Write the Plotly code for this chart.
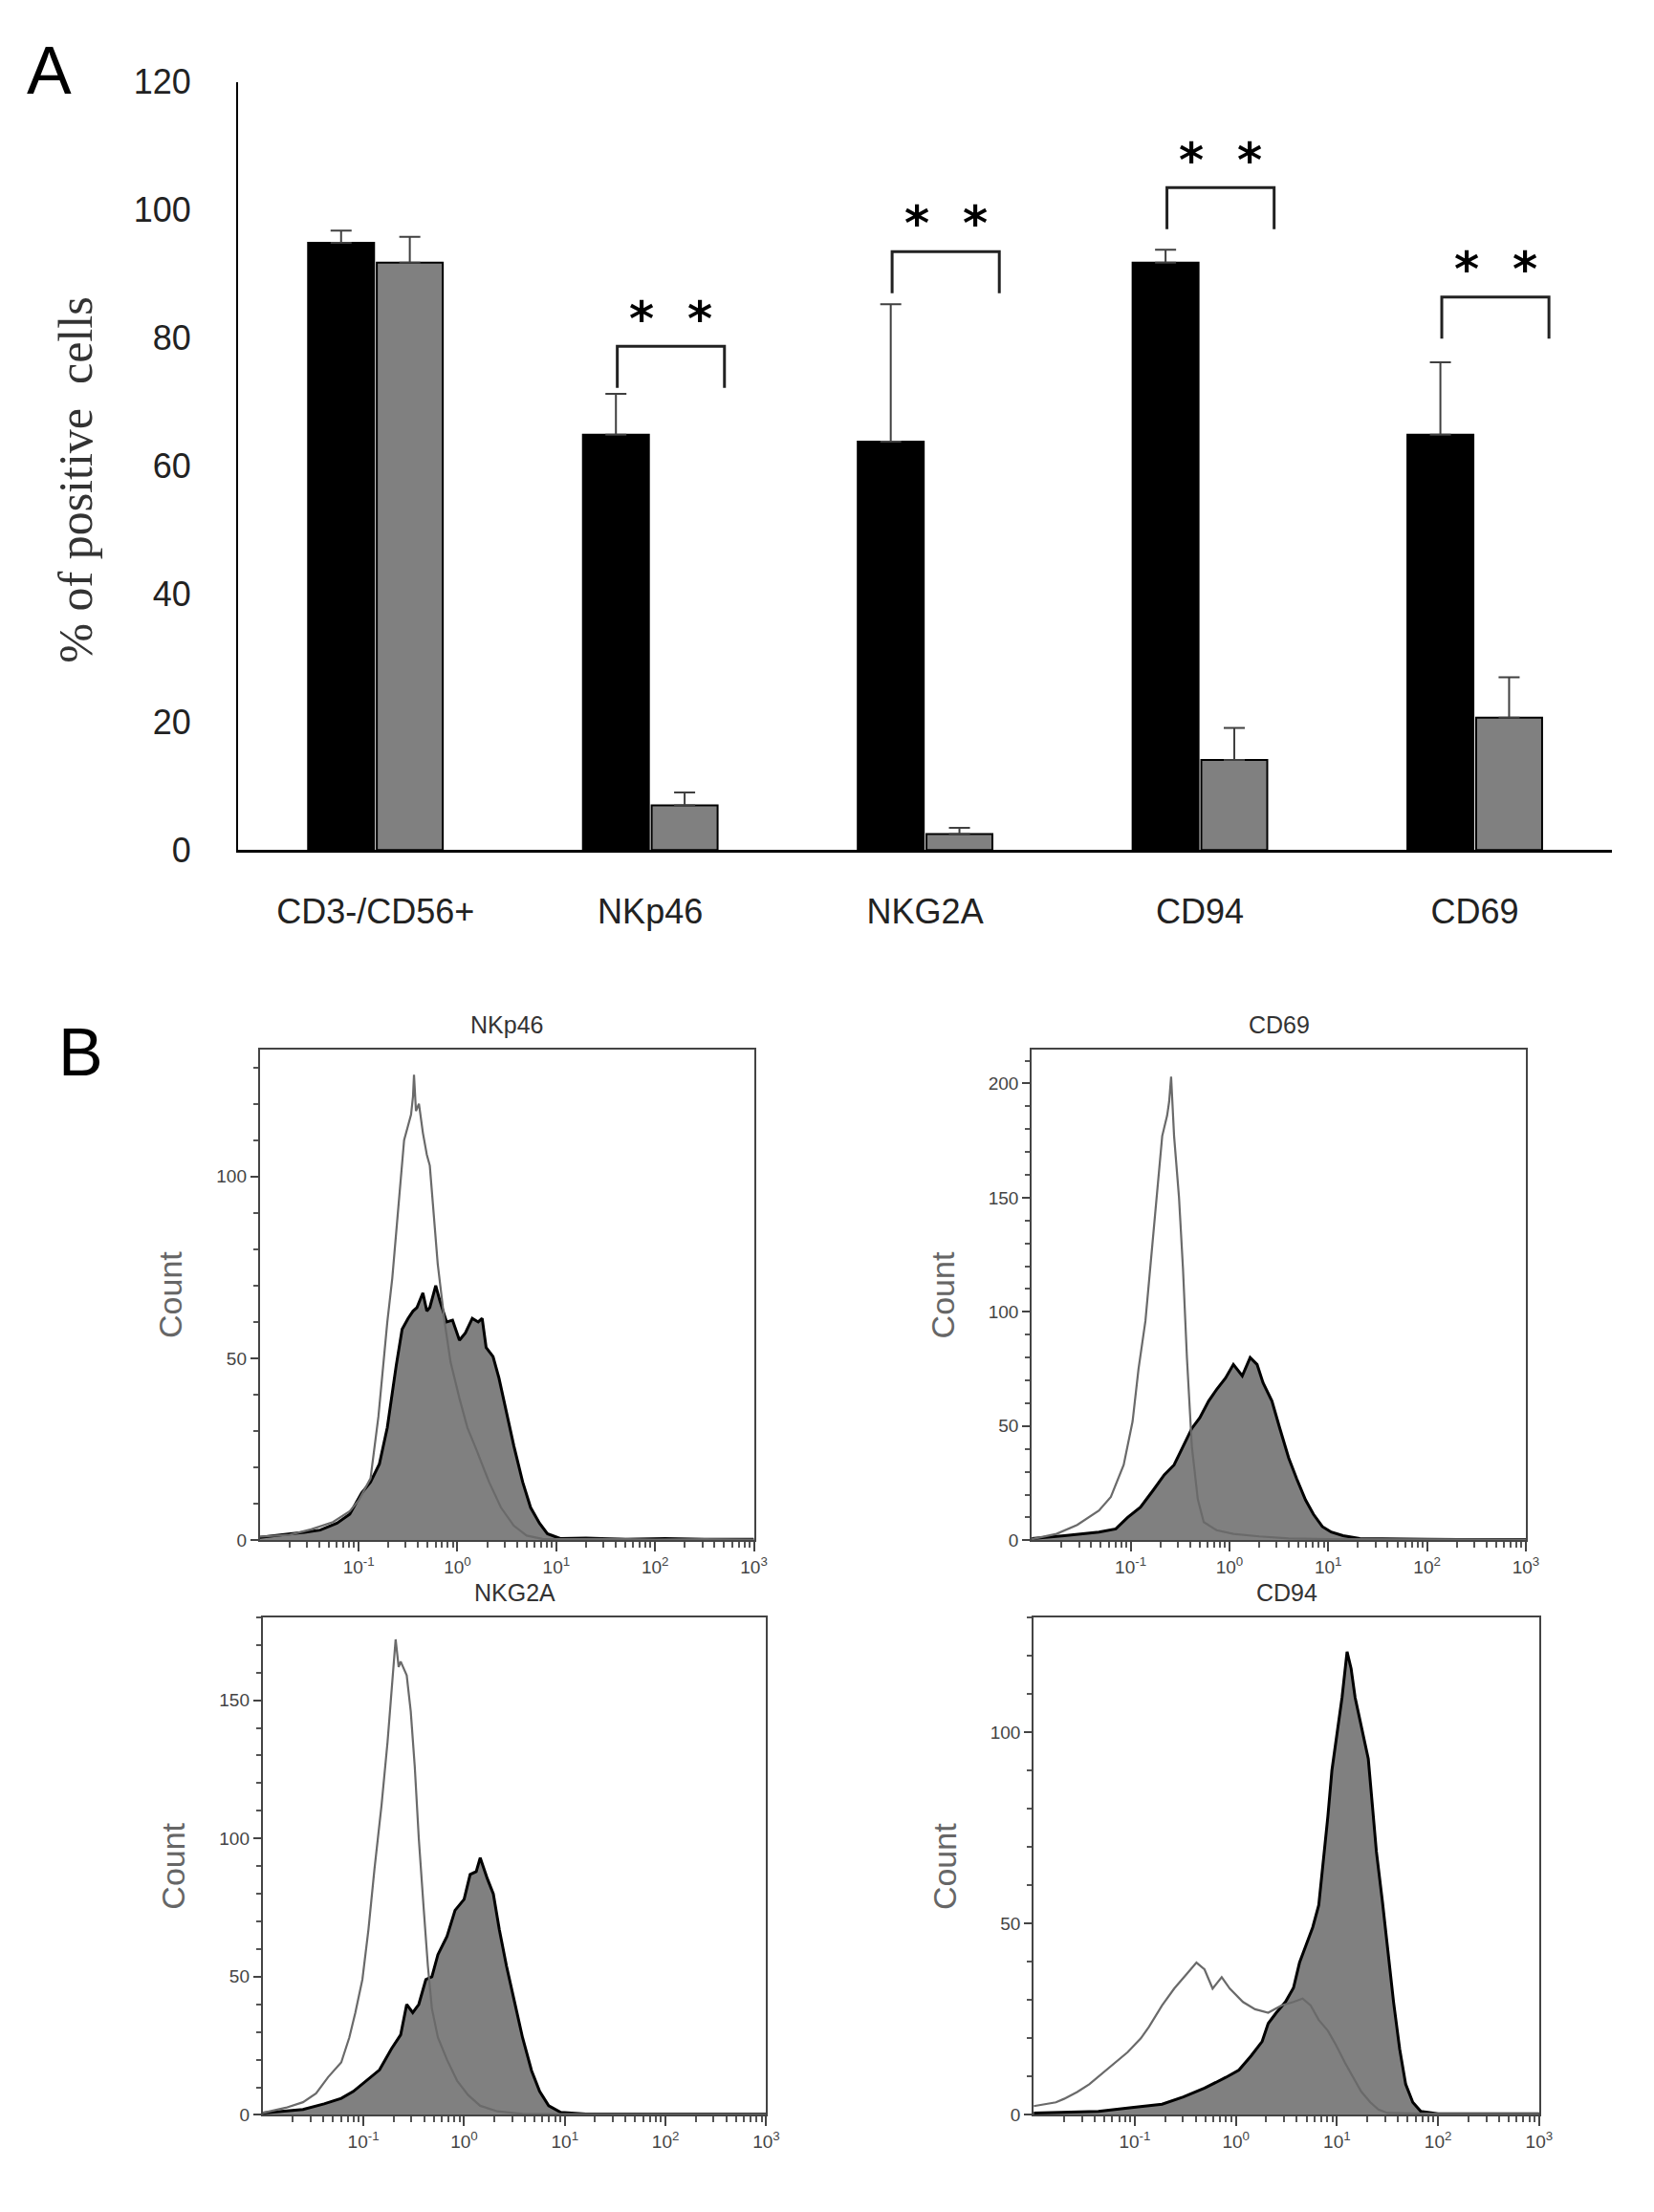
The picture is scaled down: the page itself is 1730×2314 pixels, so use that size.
import plotly.graph_objects as go

W, H = 1730, 2314

# ---------------- panel A data ----------------
markers = ['CD3-/CD56+', 'NKp46', 'NKG2A', 'CD94', 'CD69']
black_pct = [94.9, 64.9, 63.8, 91.8, 64.9]
black_sd = [1.9, 6.4, 21.5, 2.0, 11.3]
gray_pct = [91.8, 7.0, 2.5, 14.1, 20.7]
gray_sd = [4.0, 2.0, 1.0, 5.0, 6.3]
sig_idx = [1, 2, 3, 4]
sig_top = [78.7, 93.5, 103.5, 86.4]
sig_text = '<b>*  *</b>'

# ---------------- panel B data (log10 of intensity, count) ----------------
nkp46_ctrl_e = [-2.0, -1.7, -1.48, -1.26, -1.09, -1.0, -0.94, -0.88, -0.80, -0.71,
                -0.66, -0.62, -0.58, -0.54, -0.50, -0.47, -0.45, -0.44, -0.42, -0.39,
                -0.35, -0.31, -0.28, -0.24, -0.20, -0.13, -0.07, 0.02, 0.10, 0.19,
                0.32, 0.44, 0.57, 0.70, 0.87, 1.2, 1.6, 2.0, 2.5, 3.0]
nkp46_ctrl_n = [1, 1.5, 3, 5, 8, 11, 14, 17, 34, 60,
                72, 84, 96, 110, 114, 117, 122, 128, 118, 120,
                112, 106, 103, 90, 76, 60, 49, 39, 31, 25,
                16, 9, 4, 1.3, 0.3, 0.3, 0.4, 0.2, 0.3, 0.2]
nkp46_e = [-2.0, -1.85, -1.69, -1.55, -1.39, -1.22, -1.09, -0.97, -0.88, -0.79,
           -0.71, -0.62, -0.56, -0.50, -0.45, -0.41, -0.35, -0.31, -0.28, -0.25,
           -0.22, -0.18, -0.11, -0.05, 0.02, 0.08, 0.15, 0.21, 0.25, 0.29,
           0.36, 0.42, 0.49, 0.57, 0.66, 0.74, 0.83, 0.91, 1.04, 1.3,
           1.7, 2.1, 2.5, 3.0]
nkp46_n = [0.8, 1.2, 1.8, 2.2, 2.8, 4.7, 7.2, 13, 16, 21,
           31, 48, 58, 61, 63, 64, 68, 63, 64, 67,
           70, 66, 60, 60.5, 55, 57, 61, 60, 61, 53,
           50.5, 44.6, 35.8, 26, 16, 9, 4.7, 1.8, 0.5, 0.6,
           0.3, 0.5, 0.3, 0.3]

cd69_ctrl_e = [-2.0, -1.75, -1.54, -1.32, -1.20, -1.07, -0.98, -0.92, -0.85, -0.81,
               -0.75, -0.68, -0.63, -0.61, -0.59, -0.56, -0.51, -0.47, -0.43, -0.38,
               -0.32, -0.26, -0.13, 0.04, 0.30, 0.60, 1.03, 1.5, 2.0, 2.5, 3.0]
cd69_ctrl_n = [0.5, 2.8, 6.7, 13, 19, 33, 52, 75, 96, 115,
               146, 177, 186, 192, 203, 177, 150, 119, 80, 41,
               18, 8, 4.4, 2.8, 1.7, 0.8, 0.5, 0.4, 0.3, 0.4, 0.3]
cd69_e = [-2.0, -1.67, -1.32, -1.15, -1.03, -0.90, -0.77, -0.66, -0.56, -0.47,
          -0.38, -0.30, -0.21, -0.13, -0.04, 0.04, 0.09, 0.13, 0.21, 0.28,
          0.34, 0.43, 0.51, 0.60, 0.68, 0.77, 0.85, 0.94, 1.03, 1.15,
          1.32, 1.67, 2.0, 2.5, 3.0]
cd69_n = [0.8, 2, 3.6, 5, 10, 14.5, 22, 28.6, 33, 41,
          49, 53.6, 61, 66, 71, 77, 74, 72, 80, 77,
          69, 61, 49, 36, 27, 17.7, 11.4, 6, 3.6, 2,
          0.8, 0.5, 0.4, 0.3, 0.3]

nkg2a_ctrl_e = [-2.0, -1.77, -1.60, -1.47, -1.35, -1.22, -1.14, -1.08, -1.01, -0.95,
                -0.89, -0.82, -0.76, -0.71, -0.68, -0.65, -0.63, -0.57, -0.53, -0.49,
                -0.45, -0.40, -0.36, -0.32, -0.26, -0.17, -0.07, 0.04, 0.16, 0.33,
                0.58, 1.0, 1.5, 2.0, 2.5, 3.0]
nkg2a_ctrl_n = [0.7, 2.6, 4.6, 7.8, 13.7, 19, 28, 37, 49, 67,
                89, 112, 135, 159, 172, 162, 164, 159, 146, 126,
                100, 74, 54, 38.5, 28, 20, 12.4, 7.2, 3.3, 1.3,
                0.4, 0.3, 0.4, 0.3, 0.3, 0.3]
nkg2a_e = [-2.0, -1.60, -1.39, -1.22, -1.10, -0.97, -0.84, -0.72, -0.63, -0.57,
           -0.51, -0.45, -0.38, -0.32, -0.26, -0.17, -0.09, 0.0, 0.06, 0.12,
           0.16, 0.23, 0.29, 0.35, 0.42, 0.50, 0.58, 0.67, 0.75, 0.84,
           0.96, 1.21, 1.6, 2.0, 2.5, 3.0]
nkg2a_n = [0.7, 2, 4, 6, 8.5, 12.4, 16.3, 24, 29, 40,
           37, 40, 49, 50, 58, 64.6, 74, 78, 87, 88,
           93, 85.5, 80, 67, 54, 41, 28, 16, 8.5, 3.3,
           0.9, 0.3, 0.4, 0.3, 0.3, 0.3]

cd94_ctrl_e = [-2.0, -1.87, -1.78, -1.70, -1.57, -1.45, -1.32, -1.19, -1.07, -0.94,
               -0.86, -0.73, -0.61, -0.48, -0.39, -0.31, -0.23, -0.14, -0.06, 0.07,
               0.19, 0.32, 0.45, 0.57, 0.66, 0.74, 0.82, 0.91, 0.99, 1.08,
               1.16, 1.24, 1.33, 1.41, 1.50, 2.0, 2.5, 3.0]
cd94_ctrl_n = [2.3, 2.8, 3.3, 4.2, 6, 8, 10.8, 13.6, 16.4, 20,
               23, 28.6, 33, 37, 39.8, 38, 33, 36, 33, 29.5,
               27.6, 26.7, 28.6, 29.5, 30.4, 28.6, 24.8, 22, 18.3, 13.6,
               9.8, 6.1, 3.3, 1.4, 0.5, 0.3, 0.3, 0.3]
cd94_e = [-2.0, -1.36, -1.03, -0.73, -0.52, -0.31, -0.10, 0.03, 0.15, 0.26,
          0.32, 0.40, 0.49, 0.57, 0.63, 0.70, 0.76, 0.82, 0.87, 0.91,
          0.95, 1.01, 1.05, 1.10, 1.14, 1.18, 1.24, 1.31, 1.35, 1.39,
          1.45, 1.50, 1.56, 1.62, 1.68, 1.75, 1.83, 2.0, 2.5, 3.0]
cd94_n = [0.5, 0.9, 1.9, 2.8, 4.7, 7, 9.8, 11.7, 15.4, 19.2,
          23.9, 26.7, 29.5, 33.2, 39.8, 44.5, 49, 54.8, 67, 78,
          90, 101.6, 109, 121, 116.6, 109, 101.6, 93, 81, 68.8,
          55.7, 43.5, 29.5, 17.3, 8, 3.3, 0.9, 0.3, 0.3, 0.3]

decade_labels = ['10<sup>-1</sup>', '10<sup>0</sup>', '10<sup>1</sup>', '10<sup>2</sup>', '10<sup>3</sup>']


def px_x(p):
    return p / W


def px_y(p):
    return 1 - p / H


def label(x, y, text, size, family='Liberation Sans', color='black', angle=0,
          xanchor='center', yanchor='middle'):
    fig.add_annotation(x=px_x(x), y=px_y(y), xref='paper', yref='paper', text=text,
                       showarrow=False, textangle=angle, xanchor=xanchor, yanchor=yanchor,
                       font=dict(family=family, size=size, color=color))


fig = go.Figure()

# ---- panel A bars ----
fig.add_trace(go.Bar(
    x=list(range(len(markers))), y=black_pct, name='black',
    marker=dict(color='black', line=dict(color='black', width=2)),
    error_y=dict(type='data', array=black_sd, arrayminus=[0] * 5, symmetric=False,
                 color='#404040', thickness=2, width=11),
    xaxis='x', yaxis='y', showlegend=False))
fig.add_trace(go.Bar(
    x=list(range(len(markers))), y=gray_pct, name='gray',
    marker=dict(color='#808080', line=dict(color='black', width=2)),
    error_y=dict(type='data', array=gray_sd, arrayminus=[0] * 5, symmetric=False,
                 color='#404040', thickness=2, width=11),
    xaxis='x', yaxis='y', showlegend=False))

leg = 6.5
for i, top in zip(sig_idx, sig_top):
    fig.add_trace(go.Scatter(
        x=[i - 0.12, i - 0.12, i + 0.27, i + 0.27],
        y=[top - leg, top, top, top - leg],
        mode='lines', line=dict(color='#222222', width=3),
        xaxis='x', yaxis='y', showlegend=False, hoverinfo='skip'))
    fig.add_annotation(x=i + 0.075, y=top + 4.3, xref='x', yref='y', text=sig_text,
                       showarrow=False, xanchor='center', yanchor='middle',
                       font=dict(family='DejaVu Sans', size=50, color='black'))

# ---- panel B histograms ----
panels = [
    ('NKp46', nkp46_e, nkp46_n, nkp46_ctrl_e, nkp46_ctrl_n, 135, 274, 795, 1097, 1620),
    ('CD69', cd69_e, cd69_n, cd69_ctrl_e, cd69_ctrl_n, 215, 1088, 1609, 1097, 1620),
    ('NKG2A', nkg2a_e, nkg2a_n, nkg2a_ctrl_e, nkg2a_ctrl_n, 180, 277, 808, 1702, 2232),
    ('CD94', cd94_e, cd94_n, cd94_ctrl_e, cd94_ctrl_n, 130, 1090, 1623, 1702, 2232),
]

minor_vals = [k * 10 ** d for d in range(-2, 3) for k in range(2, 10)]

for k, (title, e, n, ce, cn, ymax, x0, x1, y0, y1) in enumerate(panels):
    ax = k + 2
    xa, ya = f'x{ax}', f'y{ax}'
    fig.add_trace(go.Scatter(
        x=[10 ** v for v in e], y=n, mode='lines', fill='tozeroy',
        fillcolor='#808080', line=dict(color='black', width=3),
        xaxis=xa, yaxis=ya, showlegend=False, hoverinfo='skip'))
    fig.add_trace(go.Scatter(
        x=[10 ** v for v in ce], y=cn, mode='lines',
        line=dict(color='#6a6a6a', width=2.2),
        xaxis=xa, yaxis=ya, showlegend=False, hoverinfo='skip'))

    fig.update_layout({
        f'xaxis{ax}': dict(
            domain=[px_x(x0), px_x(x1)], anchor=ya, type='log', range=[-2, 3],
            tickvals=[0.1, 1, 10, 100, 1000], ticktext=decade_labels,
            ticks='outside', ticklen=10, tickcolor='#444', tickwidth=2,
            minor=dict(tickvals=minor_vals, ticks='outside', ticklen=6,
                       tickcolor='#555', tickwidth=2),
            showline=True, mirror=True, linecolor='#444', linewidth=2,
            showgrid=False, zeroline=False,
            tickfont=dict(family='Liberation Sans', size=19, color='#444')),
        f'yaxis{ax}': dict(
            domain=[px_y(y1), px_y(y0)], anchor=xa, range=[0, ymax],
            dtick=50, ticks='outside', ticklen=8, tickcolor='#444', tickwidth=2,
            minor=dict(dtick=10, ticks='outside', ticklen=5,
                       tickcolor='#555', tickwidth=2),
            showline=True, mirror=True, linecolor='#444', linewidth=2,
            showgrid=False, zeroline=False,
            tickfont=dict(family='Liberation Sans', size=19, color='#444')),
    })
    label((x0 + x1) / 2, y0 - 10, title, 25, color='#333', yanchor='bottom')
    label(x0 - 94, (y0 + y1) / 2, 'Count', 34, family='Liberation Sans Narrow, Liberation Sans',
          color='#666', angle=-90)

# ---- panel labels and y title ----
label(52, 55, 'A', 70)
label(85, 1101, 'B', 70)
label(80, 491, '% of positive  cells', 50, family='Liberation Serif', color='#333', angle=-90)

fig.update_layout(
    width=W, height=H, autosize=False,
    margin=dict(l=0, r=0, t=0, b=0),
    paper_bgcolor='white', plot_bgcolor='white',
    barmode='group', bargap=0.5, bargroupgap=0.04,
    xaxis=dict(domain=[px_x(251), px_x(1700)], anchor='y', range=[-0.5, 4.5],
               tickvals=list(range(len(markers))), ticktext=markers,
               ticks='', showline=True, linecolor='black', linewidth=3,
               showgrid=False, zeroline=False, ticklabelstandoff=30,
               tickfont=dict(family='Liberation Sans', size=36, color='#222')),
    yaxis=dict(domain=[px_y(885), px_y(67)], anchor='x', range=[0, 120],
               tickvals=list(range(0, 121, 20)), ticks='',
               showline=True, linecolor='black', linewidth=2,
               showgrid=False, zeroline=False, ticklabelstandoff=40,
               tickfont=dict(family='Liberation Sans', size=36, color='#222')),
)

fig.write_html('out.html', config={'displayModeBar': False},
               post_script="document.body.style.margin='0';")
